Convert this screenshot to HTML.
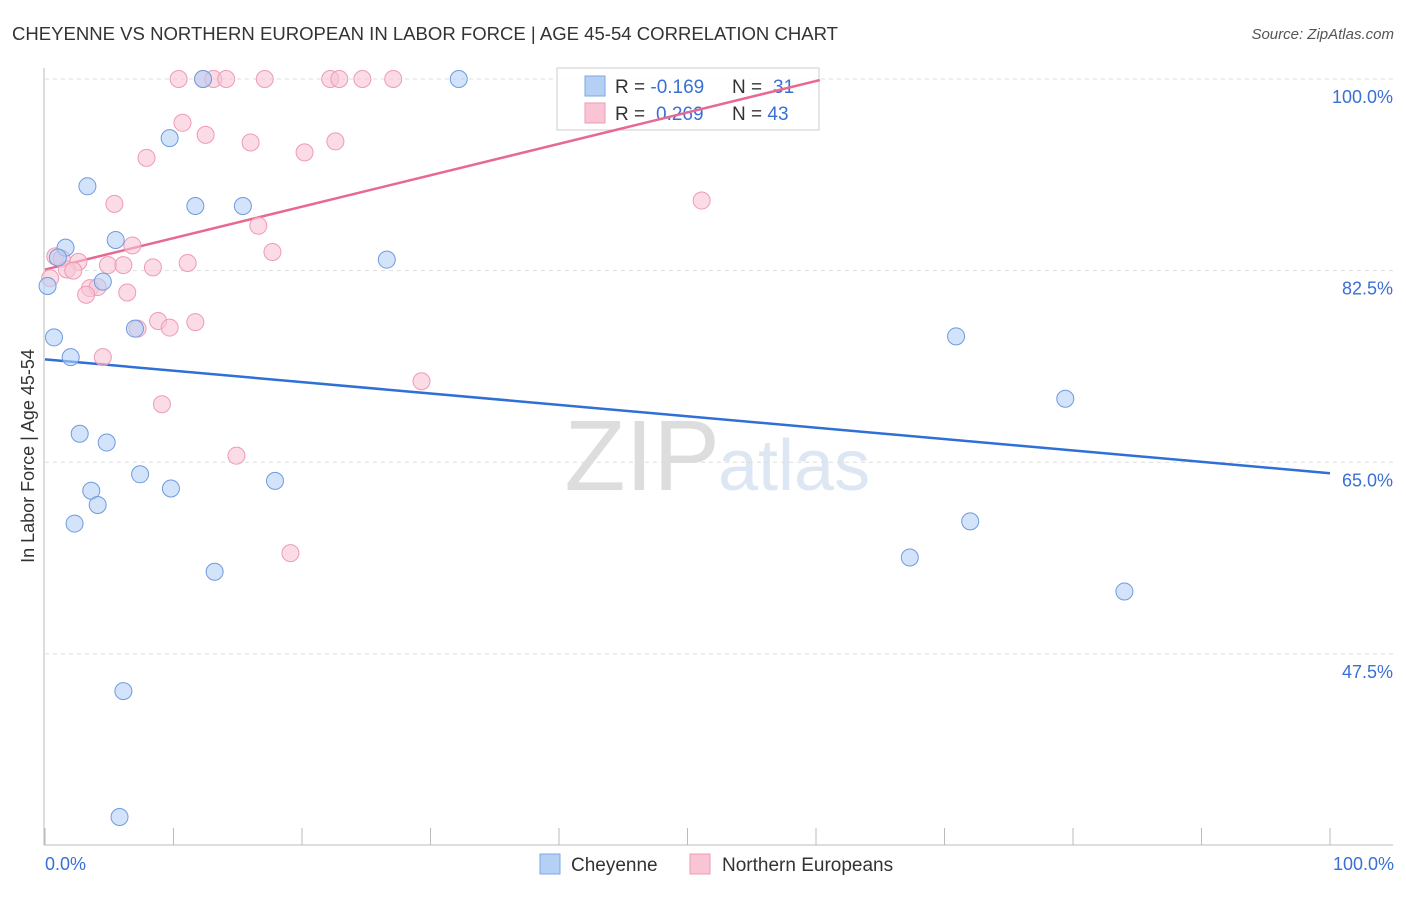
<!DOCTYPE html>
<html><head><meta charset="utf-8"><style>
body{margin:0;background:#fff;font-family:"Liberation Sans",sans-serif;}
svg text{font-family:"Liberation Sans",sans-serif;}
</style></head><body>
<svg id="chart" width="1406" height="892" xmlns="http://www.w3.org/2000/svg">
<text x="12" y="40" font-size="18" fill="#333" textLength="826" lengthAdjust="spacingAndGlyphs">CHEYENNE VS NORTHERN EUROPEAN IN LABOR FORCE | AGE 45-54 CORRELATION CHART</text>
<text x="1394" y="39" font-size="15" fill="#555" font-style="italic" text-anchor="end">Source: ZipAtlas.com</text>
<text x="720" y="490" font-size="100" fill="#ddd" text-anchor="end" font-family="Liberation Serif">ZIP</text>
<text x="718" y="490" font-size="72" fill="#dde6f3">atlas</text>
<g id="grid"></g><g id="axes"></g>
<g>
<rect x="557" y="68" width="262" height="62" fill="#fff" fill-opacity="0.85" stroke="#ccc"/>
<rect x="585" y="76" width="20" height="20" fill="#b5d0f5" stroke="#7ea7e0"/>
<rect x="585" y="103" width="20" height="20" fill="#f9c5d5" stroke="#ee9bb4"/>
<text x="615" y="93" font-size="19" fill="#333">R = <tspan fill="#3a6fd6">-0.169</tspan><tspan x="732">N = </tspan><tspan fill="#3a6fd6" x="773">31</tspan></text>
<text x="615" y="120" font-size="19" fill="#333">R = <tspan fill="#3a6fd6" x="656">0.269</tspan><tspan x="732">N = </tspan><tspan fill="#3a6fd6">43</tspan></text>
</g>
<g id="lines"></g><g id="pts"></g>
<text transform="translate(34,456) rotate(-90)" font-size="18" fill="#333" text-anchor="middle">In Labor Force | Age 45-54</text>
<text x="45" y="870" font-size="18" fill="#3a6fd6">0.0%</text>
<text x="1394" y="870" font-size="18" fill="#3a6fd6" text-anchor="end">100.0%</text>
<g>
<rect x="540" y="854" width="20" height="20" fill="#b5d0f5" stroke="#7ea7e0"/>
<text x="571" y="871" font-size="19" fill="#333">Cheyenne</text>
<rect x="690" y="854" width="20" height="20" fill="#f9c5d5" stroke="#ee9bb4"/>
<text x="722" y="871" font-size="19" fill="#333">Northern Europeans</text>
</g>
</svg>
<script>
const yTicks=[100,82.5,65,47.5];
const blueX=[12.3,32.2,9.7,3.3,11.7,15.4,5.5,1.6,1.0,26.6,0.2,4.5,0.7,7.0,2.0,70.9,79.4,2.7,4.8,7.4,9.8,3.6,4.1,17.9,2.3,72.0,67.3,13.2,84.0,6.1,5.8];
const blueY=[100,100,94.6,90.2,88.4,88.4,85.3,84.6,83.7,83.5,81.1,81.5,76.4,77.2,74.6,76.5,70.8,67.6,66.8,63.9,62.6,62.4,61.1,63.3,59.4,59.6,56.3,55.0,53.2,44.1,32.6];
const pinkX=[10.4,12.3,13.1,14.1,17.1,22.2,22.9,24.7,27.1,10.7,12.5,7.9,16.0,20.2,22.6,51.1,5.4,16.6,6.8,17.7,0.8,1.3,2.6,4.9,6.1,8.4,11.1,1.7,2.2,0.4,3.5,4.1,6.4,3.2,8.8,11.7,9.7,7.2,4.5,29.3,9.1,14.9,19.1];
const pinkY=[100,100,100,100,100,100,100,100,100,96.0,94.9,92.8,94.2,93.3,94.3,88.9,88.6,86.6,84.8,84.2,83.8,83.6,83.3,83.0,83.0,82.8,83.2,82.6,82.5,81.8,80.9,81.0,80.5,80.3,77.9,77.8,77.3,77.2,74.6,72.4,70.3,65.6,56.7];
const blueFit=[74.4,-0.104]; // intercept, slope
const pinkFit=[82.6,0.287];
const pinkEnd=60.3;
const X=v=>45+v*12.85, Y=v=>79+(100-v)*10.95;
const NS="http://www.w3.org/2000/svg";
function mk(p,t,a){const e=document.createElementNS(NS,t);for(const k in a)e.setAttribute(k,a[k]);document.getElementById(p).appendChild(e);return e;}
yTicks.forEach(t=>{
 const l=mk('grid','line',{x1:45,x2:1393,y1:Y(t),y2:Y(t),stroke:'#ddd','stroke-dasharray':'4,4'});
 
 
 const tx=mk('grid','text',{x:1393,y:Y(t)+24,'font-size':18,fill:'#3a6fd6','text-anchor':'end'});
 tx.textContent=t.toFixed(1)+'%';
 
 
});
const ax=mk('axes','line',{x1:44,x2:44,y1:68,y2:845,stroke:'#bbb'});


const bx=mk('axes','line',{x1:44,x2:1393,y1:845,y2:845,stroke:'#bbb'});


for(let i=0;i<=10;i++){const t=mk('axes','line',{x1:X(i*10),x2:X(i*10),y1:828,y2:845,stroke:'#bbb'});
 
 }
function pts(xs,ys,f,s,n){xs.forEach((x,i)=>{const c=mk('pts','circle',{cx:X(x),cy:Y(ys[i]),r:8.5,fill:f,'fill-opacity':0.6,stroke:s,'stroke-width':1});
 
 });}
pts(pinkX,pinkY,'#f9c5d5','#ee9bb4','northern-european-point');
pts(blueX,blueY,'#b5d0f5','#6e9be0','cheyenne-point');
const bl=mk('lines','line',{x1:X(0),y1:Y(blueFit[0]),x2:X(100),y2:Y(blueFit[0]+100*blueFit[1]),stroke:'#2f6fd6','stroke-width':2.5});


const pl=mk('lines','line',{x1:X(0),y1:Y(pinkFit[0]),x2:X(pinkEnd),y2:Y(pinkFit[0]+pinkEnd*pinkFit[1]),stroke:'#e8698f','stroke-width':2.5});


</script>
</body></html>
